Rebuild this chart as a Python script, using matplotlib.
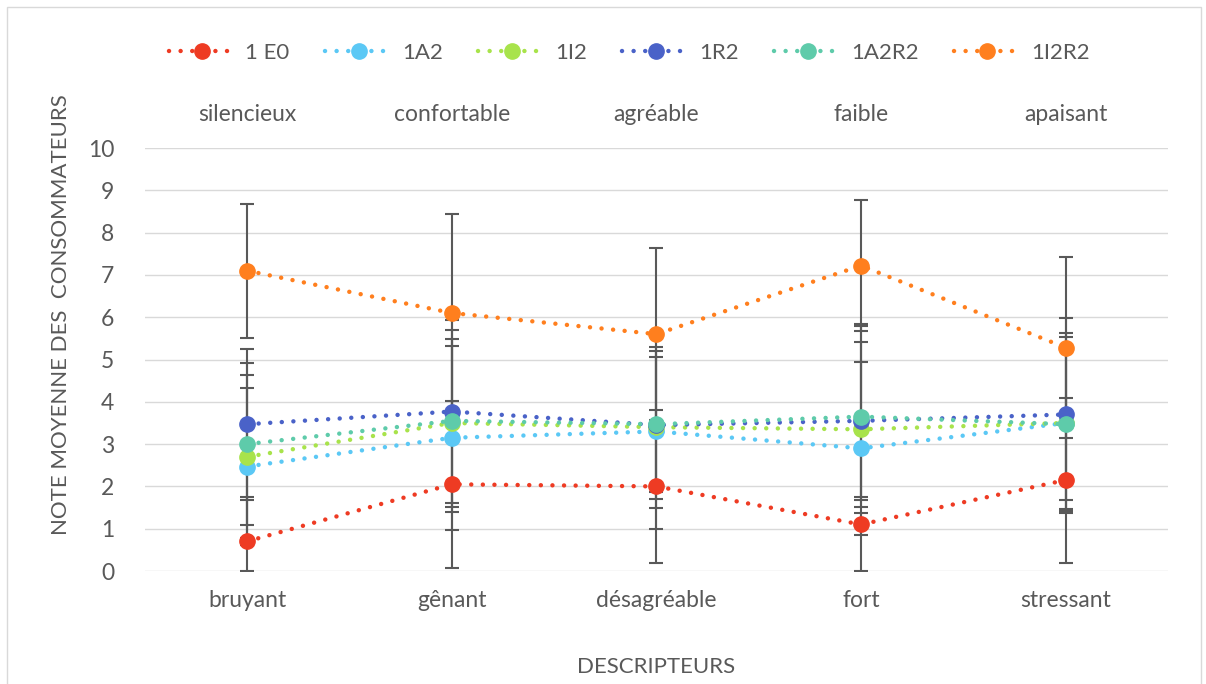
import matplotlib.pyplot as plt
from matplotlib.patches import Rectangle

plt.rcParams['font.family'] = ['Lato', 'DejaVu Sans']

# Data
categories = ['bruyant', 'gênant', 'désagréable', 'fort', 'stressant']
top_labels = ['silencieux', 'confortable', 'agréable', 'faible', 'apaisant']
series_names = ['1 E0', '1A2', '1I2', '1R2', '1A2R2', '1I2R2']

e0 = [0.70, 2.05, 2.00, 1.10, 2.15]
a2 = [2.47, 3.15, 3.30, 2.90, 3.50]
i2 = [2.70, 3.50, 3.40, 3.35, 3.50]
r2 = [3.47, 3.77, 3.45, 3.55, 3.70]
a2r2 = [3.00, 3.55, 3.47, 3.65, 3.47]
i2r2 = [7.10, 6.10, 5.60, 7.22, 5.28]

e0_sd = [1.04, 1.98, 1.81, 0.26, 1.95]
a2_sd = [1.86, 2.17, 2.30, 2.93, 2.13]
i2_sd = [1.93, 1.98, 1.90, 1.59, 2.04]
r2_sd = [1.78, 2.16, 1.75, 1.87, 2.27]
a2r2_sd = [1.91, 2.15, 1.60, 2.14, 1.80]
i2r2_sd = [1.58, 2.33, 2.04, 1.55, 2.14]

colors = ['#EE3B23', '#5BC8F5', '#A8E34B', '#4A62C8', '#5ECBAA', '#FF7F1E']


def plot_chart():
    fig = plt.figure(figsize=(12.06, 6.84), dpi=100)
    ax = fig.add_axes([0.120, 0.1652, 0.8485, 0.6184])

    x = list(range(len(categories)))
    values = [e0, a2, i2, r2, a2r2, i2r2]
    sds = [e0_sd, a2_sd, i2_sd, r2_sd, a2r2_sd, i2r2_sd]

    for name, vals, sd, col in zip(series_names, values, sds, colors):
        low = [min(s, v) for v, s in zip(vals, sd)]  # clip at 0 like Excel
        ax.errorbar(x, vals, yerr=[low, sd], fmt='none', ecolor='#595959',
                    elinewidth=1.5, capsize=5, capthick=1.5, zorder=2)
    for name, vals, col in zip(series_names, values, colors):
        ax.plot(x, vals, color=col, linestyle=(0, (0.01, 2.6)), linewidth=3.2,
                dash_capstyle='round', marker='o', markersize=11,
                label=name, zorder=3)

    ax.set_xlim(-0.5, len(categories) - 0.5)
    ax.set_ylim(0, 10)
    ax.set_yticks(range(0, 11))
    ax.set_xticks(x)
    ax.set_xticklabels(categories)
    ax.tick_params(axis='both', length=0, labelsize=16.5, colors='#595959')
    ax.tick_params(axis='x', pad=14)
    ax.tick_params(axis='y', pad=22)
    ax.grid(axis='y', color='#D9D9D9', linewidth=1)
    ax.set_axisbelow(True)
    for side in ['top', 'right', 'left', 'bottom']:
        ax.spines[side].set_visible(False)

    for xi, lab in zip(x, top_labels):
        ax.text(xi, 10.8, lab, ha='center', va='center', fontsize=16.5,
                color='#595959')

    ax.set_ylabel('NOTE MOYENNE DES  CONSOMMATEURS', fontsize=16,
                  color='#595959')
    ax.yaxis.set_label_coords(-0.072, 0.605)
    ax.set_xlabel('DESCRIPTEURS', fontsize=16, color='#595959')
    ax.xaxis.set_label_coords(0.5, -0.204)

    handles, labels = ax.get_legend_handles_labels()
    fig.legend(handles, labels, loc='center', bbox_to_anchor=(0.5216, 0.9225),
               ncol=6, frameon=False, fontsize=16, columnspacing=1.6,
               handlelength=3.0, handletextpad=0.45, labelcolor='#595959')

    fig.patches.append(Rectangle((0.006, -0.01), 0.99, 1.0, transform=fig.transFigure,
                                 fill=False, edgecolor='#D9D9D9', linewidth=1))
    fig.savefig('out.png', dpi=100)


def main():
    plot_chart()


if __name__ == '__main__':
    main()
